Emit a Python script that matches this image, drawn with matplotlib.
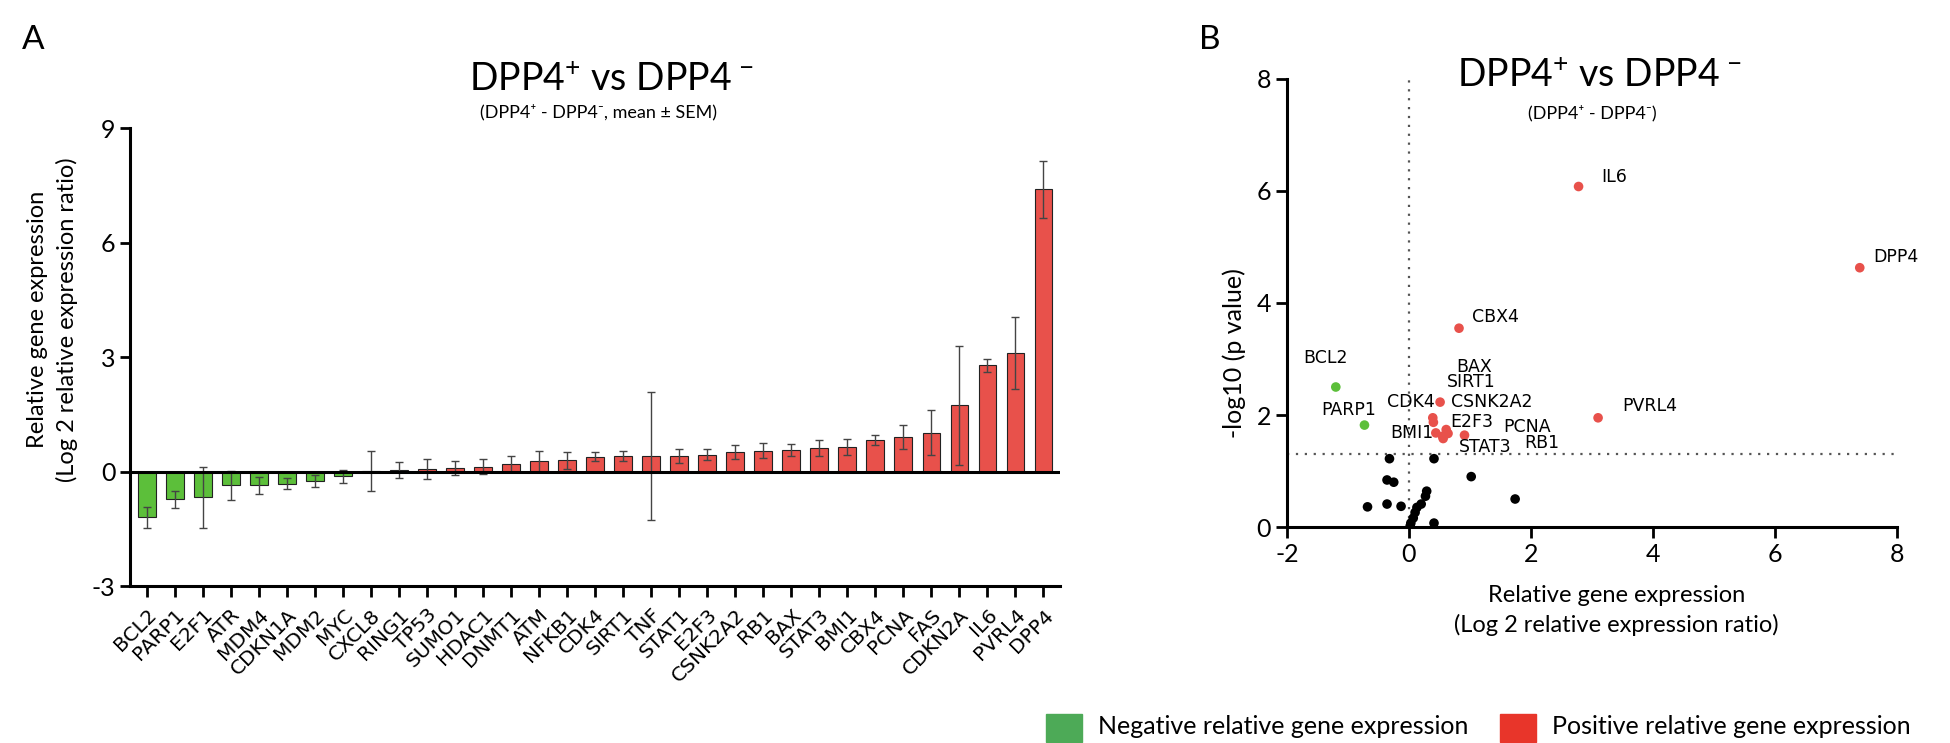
import numpy as np
import matplotlib.pyplot as plt
from matplotlib.patches import Rectangle

plt.rcParams['font.family'] = ['Lato', 'DejaVu Sans']
plt.rcParams['axes.unicode_minus'] = False
plt.rcParams['mathtext.fontset'] = 'custom'
plt.rcParams['mathtext.rm'] = 'Lato'
plt.rcParams['mathtext.it'] = 'Lato:italic'

# genes sorted by mean log2 ratio (panel A order)
genes = ['BCL2', 'PARP1', 'E2F1', 'ATR', 'MDM4', 'CDKN1A', 'MDM2', 'MYC', 'CXCL8',
         'RING1', 'TP53', 'SUMO1', 'HDAC1', 'DNMT1', 'ATM', 'NFKB1', 'CDK4', 'SIRT1',
         'TNF', 'STAT1', 'E2F3', 'CSNK2A2', 'RB1', 'BAX', 'STAT3', 'BMI1', 'CBX4',
         'PCNA', 'FAS', 'CDKN2A', 'IL6', 'PVRL4', 'DPP4']
mean = [-1.20, -0.73, -0.68, -0.36, -0.36, -0.32, -0.25, -0.13, 0.02,
        0.03, 0.07, 0.10, 0.13, 0.20, 0.27, 0.29, 0.39, 0.40,
        0.41, 0.41, 0.44, 0.51, 0.55, 0.56, 0.61, 0.64, 0.82,
        0.91, 1.02, 1.74, 2.78, 3.10, 7.39]
sem = [0.28, 0.23, 0.79, 0.38, 0.22, 0.15, 0.16, 0.17, 0.52,
       0.21, 0.27, 0.18, 0.20, 0.21, 0.27, 0.22, 0.12, 0.13,
       1.67, 0.19, 0.15, 0.18, 0.20, 0.15, 0.21, 0.21, 0.13,
       0.32, 0.58, 1.56, 0.17, 0.95, 0.75]
# -log10 p value, same order (panel B)
neglog_p = [2.50, 1.82, 0.36, 0.84, 0.41, 1.22, 0.80, 0.37, 0.02,
            0.07, 0.16, 0.26, 0.35, 0.41, 0.55, 0.64, 1.95, 1.87,
            0.07, 1.22, 1.68, 2.23, 1.62, 1.58, 1.74, 1.67, 3.55,
            1.64, 0.90, 0.50, 6.08, 1.95, 4.63]

p_cut = 1.3

green = '#5CBF3A'
red = '#E8514B'

# label offsets (pixels) and alignment for significant genes in panel B
label_pos = {
    'BCL2': (-10, 29, 'center'), 'PARP1': (-16, 15, 'center'),
    'CDK4': (-22, 16, 'center'), 'SIRT1': (38, 40, 'center'),
    'BAX': (31, 72, 'center'), 'CSNK2A2': (11, 0, 'left'),
    'E2F3': (14, 11, 'left'), 'BMI1': (-15, 0, 'right'),
    'PCNA': (39, 8, 'left'), 'STAT3': (13, -17, 'left'),
    'RB1': (82, -7, 'left'), 'CBX4': (13, 11, 'left'),
    'IL6': (23, 10, 'left'), 'DPP4': (13, 11, 'left'),
    'PVRL4': (24, 12, 'left'),
}

title = r'DPP4$^{+}$ vs DPP4$^{\,-}$'

fig = plt.figure(figsize=(19.5, 7.43), dpi=100)

# ---------------- panel A ----------------
axA = fig.add_axes([0.0667, 0.2113, 0.477, 0.6164])
x = np.arange(len(genes))
cols = [green if m < 0 else red for m in mean]
axA.bar(x, mean, width=0.63, color=cols, edgecolor='#222222', linewidth=0.8, zorder=2)
axA.errorbar(x, mean, yerr=sem, fmt='none', ecolor='#444444', elinewidth=1.0,
             capsize=3, capthick=1.0, zorder=3)
axA.axhline(0, color='black', lw=2.2, zorder=4)
axA.set_xlim(-0.6, 32.6)
axA.set_ylim(-3, 9)
axA.set_yticks([-3, 0, 3, 6, 9])
axA.set_xticks(x)
axA.set_xticklabels(genes, rotation=45, ha='right', rotation_mode='anchor',
                    family='DejaVu Sans', fontsize=14.5)
axA.tick_params(axis='y', labelsize=18, width=2, length=7)
axA.tick_params(axis='x', width=2, length=8, pad=6)
for s in ['top', 'right']:
    axA.spines[s].set_visible(False)
for s in ['left', 'bottom']:
    axA.spines[s].set_linewidth(2.2)

fig.text(0.027, 0.57, 'Relative gene expression\n(Log 2 relative expression ratio)',
         rotation=90, ha='center', va='center', fontsize=17, linespacing=1.45)
fig.text(612 / 1950, 1 - 80 / 743, title, ha='center', va='center', fontsize=27)
fig.text(598 / 1950, 1 - 112 / 743, '(DPP4⁺ - DPP4⁻, mean ± SEM)', ha='center',
         va='center', fontsize=13)
fig.text(0.011, 1 - 40 / 743, 'A', fontsize=24, ha='left', va='center')

# ---------------- panel B ----------------
axB = fig.add_axes([0.66, 0.2907, 0.3128, 0.603])
lx = np.array(mean)
ly = np.array(neglog_p)
pcols = []
for m, p in zip(lx, ly):
    if p < p_cut:
        pcols.append('black')
    elif m < 0:
        pcols.append(green)
    else:
        pcols.append(red)
axB.scatter(lx, ly, s=48, c=pcols, edgecolors='none', zorder=3)
axB.axvline(0, color='#555555', lw=1.6, ls=(0, (1, 3)), zorder=1)
axB.axhline(p_cut, color='#555555', lw=1.6, ls=(0, (1, 3)), zorder=1)
for g, m, p in zip(genes, lx, ly):
    if g in label_pos:
        dx, dy, ha = label_pos[g]
        axB.annotate(g, (m, p), xytext=(dx, dy), textcoords='offset pixels',
                     ha=ha, va='center', family='DejaVu Sans', fontsize=12.5)
axB.set_xlim(-2, 8)
axB.set_ylim(0, 8)
axB.set_xticks([-2, 0, 2, 4, 6, 8])
axB.set_yticks([0, 2, 4, 6, 8])
axB.tick_params(labelsize=18, width=2, length=8)
for s in ['top', 'right']:
    axB.spines[s].set_visible(False)
for s in ['left', 'bottom']:
    axB.spines[s].set_linewidth(2.2)
axB.set_xlabel('Relative gene expression\n(Log 2 relative expression ratio)',
               fontsize=17, linespacing=1.45, labelpad=10)
axB.xaxis.set_label_coords(0.54, -0.13, transform=axB.transAxes)
axB.xaxis.label.set_va('top')
fig.text(1234 / 1950, 1 - 353 / 743, '-log10 (p value)', rotation=90, ha='center',
         va='center', fontsize=18)
fig.text(1600 / 1950, 1 - 76 / 743, title, ha='center', va='center', fontsize=27)
fig.text(1592 / 1950, 1 - 113 / 743, '(DPP4⁺ - DPP4⁻)', ha='center', va='center', fontsize=13)
fig.text(1199 / 1950, 1 - 40 / 743, 'B', fontsize=24, ha='left', va='center')

# ---------------- legend ----------------
leg = [('#4DAA57', 'Negative relative gene expression', 1046),
       ('#E8352A', 'Positive relative gene expression', 1500)]
for c, t, px in leg:
    fig.add_artist(Rectangle((px / 1950, 1 - 742 / 743), 36 / 1950, 28 / 743,
                             transform=fig.transFigure, facecolor=c, edgecolor=c))
    fig.text((px + 52) / 1950, 1 - 727 / 743, t, ha='left', va='center', fontsize=18)

fig.savefig('out.png', dpi=100)
